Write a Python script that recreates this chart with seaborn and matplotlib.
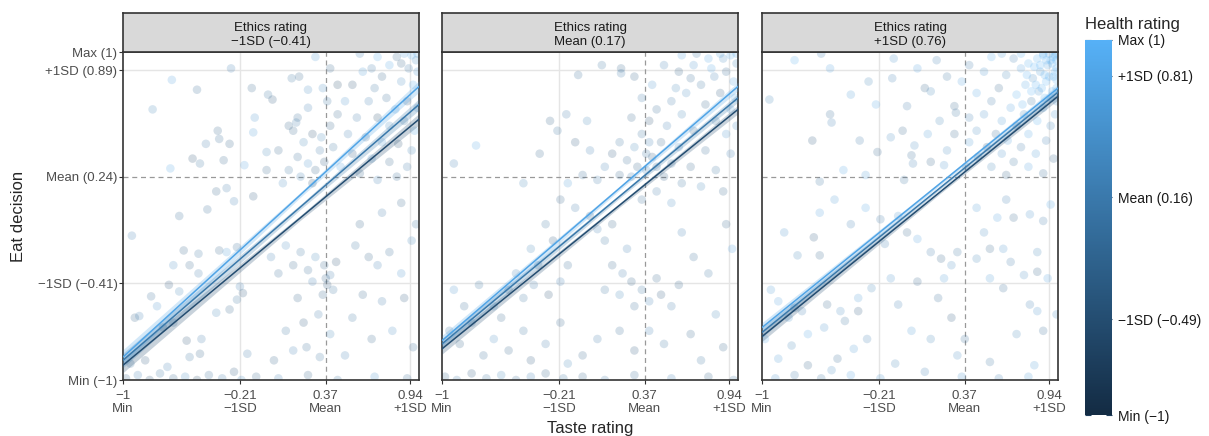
import numpy as np
import pandas as pd
import matplotlib
matplotlib.use("Agg")
import matplotlib.pyplot as plt
import seaborn as sns
from matplotlib.colors import LinearSegmentedColormap, Normalize
from matplotlib.cm import ScalarMappable

sns.set_theme(style="white")
plt.rcParams['font.family'] = ['Liberation Sans', 'DejaVu Sans']

# axis ticks / labels
taste_ticks = [-1, -0.21, 0.37, 0.94]
taste_labels = ['−1\nMin', '−0.21\n−1SD', '0.37\nMean', '0.94\n+1SD']
eat_ticks = [-1, -0.41, 0.24, 0.89, 1]
eat_labels = ['Min (−1)', '−1SD (−0.41)', 'Mean (0.24)', '+1SD (0.89)', 'Max (1)']
health_ticks = [-1, -0.49, 0.16, 0.81, 1]
health_labels = ['Min (−1)', '−1SD (−0.49)', 'Mean (0.16)', '+1SD (0.81)', 'Max (1)']
panel_titles = ['Ethics rating\n−1SD (−0.41)', 'Ethics rating\nMean (0.17)', 'Ethics rating\n+1SD (0.76)']

# fitted eat decision at taste = -1 and taste = 1, for health -1SD / mean / +1SD
line_health = [-0.49, 0.16, 0.81]
fit_left = [[-0.91, -0.88, -0.86], [-0.81, -0.78, -0.76], [-0.735, -0.71, -0.68]]
fit_right = [[0.59, 0.68, 0.79], [0.65, 0.72, 0.79], [0.73, 0.755, 0.78]]
# confidence half-width at taste = -1, 0.2, 1
ci_width = [[0.045, 0.015, 0.035], [0.032, 0.012, 0.026], [0.03, 0.01, 0.022]]

p1_points = [
    (0.95, 0.98, 0.9), (0.98, 0.95, 0.3), (0.90, 0.99, 0.7), (0.85, 0.97, -0.2), (0.99, 0.88, 0.5),
    (0.93, 0.90, 0.1), (0.80, 0.92, 0.8), (0.75, 0.85, -0.3), (0.88, 0.82, 0.4), (0.96, 0.80, 0.9),
    (0.70, 0.78, 0.0), (0.62, 0.88, 0.6), (0.55, 0.80, -0.5), (0.66, 0.70, 0.2), (0.78, 0.72, -0.1),
    (0.84, 0.65, 0.7), (0.92, 0.70, -0.4), (0.99, 0.66, 0.3), (0.50, 0.70, 0.5), (0.45, 0.62, -0.2),
    (0.58, 0.60, 0.1), (0.72, 0.60, -0.6), (0.80, 0.55, 0.4), (0.90, 0.58, 0.0), (0.97, 0.52, 0.8),
    (0.40, 0.55, -0.3), (0.52, 0.50, 0.2), (0.64, 0.48, -0.1), (0.75, 0.45, 0.6), (0.86, 0.44, -0.5),
    (0.95, 0.40, 0.3), (0.42, 0.42, 0.0), (0.55, 0.38, -0.4), (0.68, 0.35, 0.5), (0.80, 0.33, -0.2),
    (0.92, 0.30, 0.1), (0.47, 0.30, 0.7), (0.60, 0.26, -0.3), (0.72, 0.22, 0.2), (0.85, 0.24, -0.1),
    (0.35, 0.78, 0.4), (0.40, 0.90, -0.2), (0.30, 0.97, 0.6), (0.60, 0.99, 0.2), (0.72, 0.97, 0.9),
    (0.38, 0.70, 0.0), (0.45, 0.80, -0.6), (0.99, 0.99, 0.6), (0.88, 0.93, -0.3), (0.68, 0.90, 0.1),
    (0.15, 0.52, -0.2), (0.22, 0.45, 0.3), (0.28, 0.50, -0.5), (0.33, 0.40, 0.1), (0.18, 0.36, -0.1),
    (0.25, 0.32, 0.5), (0.30, 0.28, -0.3), (0.12, 0.28, 0.0), (0.36, 0.33, -0.4), (0.20, 0.24, 0.2),
    (0.05, 0.40, -0.2), (0.08, 0.20, 0.4), (0.28, 0.20, -0.6), (0.34, 0.48, 0.3), (0.18, 0.60, -0.1),
    (0.25, 0.66, 0.2),
    (-0.67, 0.83, 0.7), (-0.50, 0.77, -0.1), (-0.80, 0.65, 0.3), (-0.27, 0.90, 0.2), (-0.13, 0.78, -0.2),
    (-0.02, 0.74, 0.0), (0.01, 0.71, -0.4), (-0.11, 0.60, 0.5), (-0.12, 0.51, 0.6), (-0.36, 0.52, -0.2),
    (-0.35, 0.47, -0.1), (-0.28, 0.44, -0.3), (-0.44, 0.44, 0.1), (-0.53, 0.35, -0.5), (-0.48, 0.32, 0.0),
    (-0.32, 0.34, -0.2), (-0.18, 0.31, 0.7), (-0.68, 0.29, 0.8), (-0.37, 0.15, -0.3), (-0.30, 0.17, 0.1),
    (-0.12, 0.12, -0.4), (-0.25, 0.09, 0.2), (-0.43, 0.04, -0.1), (-0.03, 0.39, 0.3), (-0.03, 0.28, -0.2),
    (0.12, 0.55, -0.3), (0.17, 0.57, 0.1), (0.14, 0.84, 0.0), (0.19, 0.85, -0.2), (0.25, 0.77, 0.4),
    (-0.62, 0.00, -0.1), (-0.94, -0.12, 0.2), (-0.59, -0.21, -0.3), (-0.49, -0.23, 0.0), (-0.66, -0.30, 0.4),
    (-0.55, -0.30, -0.2), (-0.49, -0.35, 0.1), (-0.69, -0.42, -0.4), (-0.62, -0.46, 0.3), (-0.81, -0.49, -0.1),
    (-0.77, -0.55, 0.5), (-0.92, -0.62, -0.3), (-0.89, -0.61, 0.2), (-0.73, -0.68, -0.5), (-0.66, -0.65, 0.0),
    (-0.35, -0.21, -0.2), (-0.30, -0.22, 0.6), (-0.23, -0.19, -0.1), (-0.21, -0.43, 0.2), (-0.19, -0.47, -0.4),
    (-0.23, -0.51, 0.0), (-0.28, -0.57, -0.2), (-0.37, -0.59, 0.3), (-0.48, -0.84, -0.3), (-0.47, -0.75, 0.1),
    (-0.57, -0.76, -0.5), (-0.55, -0.86, 0.0),
    (-0.98, -0.99, -0.3), (-0.90, -0.97, 0.2), (-0.82, -1.00, -0.5), (-0.75, -0.96, 0.0), (-0.66, -0.99, -0.2),
    (-0.58, -0.98, 0.4), (-0.50, -1.00, -0.6), (-0.42, -0.97, -0.1), (-0.33, -0.99, 0.1), (-0.25, -0.95, -0.4),
    (-0.20, -1.00, 0.3), (-0.10, -0.98, -0.2), (0.05, -0.99, 0.2), (0.25, -0.97, -0.3), (0.45, -1.00, 0.0),
    (0.70, -0.98, 0.5), (0.92, -0.99, -0.1), (-0.95, -0.90, 0.0), (-0.85, -0.88, -0.4), (-0.70, -0.92, 0.2),
    (0.36, -0.30, -0.2), (0.40, -0.36, 0.1), (0.38, -0.42, -0.4), (0.42, -0.45, 0.0), (0.35, -0.48, -0.3),
    (0.30, -0.25, 0.3), (0.25, -0.33, -0.1), (0.28, -0.40, 0.2), (0.44, -0.28, -0.5), (0.20, -0.22, 0.0),
    (0.15, -0.30, -0.2), (0.10, -0.18, 0.4), (0.05, -0.35, -0.1), (0.00, -0.25, 0.2), (0.18, -0.50, -0.3),
    (0.32, -0.60, 0.1), (0.22, -0.65, -0.4), (0.10, -0.70, 0.0), (0.40, -0.72, 0.3), (0.37, -0.38, -0.3),
    (0.57, -0.18, 0.0), (0.66, -0.25, -0.3), (0.72, -0.30, 0.2), (0.80, -0.22, -0.1), (0.88, -0.35, 0.5),
    (0.62, -0.48, -0.2), (0.75, -0.52, 0.1), (0.90, -0.50, -0.4), (0.95, -0.15, 0.3), (0.55, -0.62, 0.0),
    (0.68, -0.75, -0.2), (0.82, -0.70, 0.4), (0.96, -0.80, -0.1), (0.50, -0.85, 0.2), (0.60, -0.05, -0.3),
    (0.75, 0.02, 0.1), (0.88, 0.08, -0.2), (0.98, -0.05, 0.0), (-0.16, -0.84, 0.1), (0.02, -0.88, -0.3),
    (0.15, -0.82, 0.2), (0.24, -0.80, -0.1), (0.33, -0.86, 0.0),
]

p2_points = [
    (0.95, 0.98, 0.9), (0.88, 0.99, 0.6), (0.99, 0.93, 0.3), (0.80, 0.96, 0.8), (0.92, 0.88, -0.1),
    (0.70, 0.92, 0.5), (0.84, 0.85, 0.2), (0.97, 0.82, 0.7), (0.60, 0.88, -0.3), (0.75, 0.80, 0.0),
    (0.65, 0.75, 0.4), (0.88, 0.75, -0.4), (0.55, 0.70, 0.1), (0.78, 0.68, -0.2), (0.95, 0.65, 0.6),
    (0.45, 0.65, -0.1), (0.62, 0.62, 0.3), (0.85, 0.58, 0.0), (0.40, 0.58, -0.5), (0.52, 0.55, 0.2),
    (0.70, 0.52, -0.3), (0.92, 0.50, 0.5), (0.35, 0.50, 0.0), (0.48, 0.45, -0.2), (0.60, 0.42, 0.4),
    (0.78, 0.40, -0.1), (0.95, 0.38, 0.2), (0.30, 0.42, 0.3), (0.42, 0.36, -0.4), (0.55, 0.32, 0.1),
    (0.68, 0.30, -0.2), (0.85, 0.28, 0.0), (0.25, 0.34, -0.1), (0.38, 0.28, 0.2), (0.50, 0.24, -0.3),
    (0.62, 0.20, 0.0), (0.75, 0.18, 0.3), (0.90, 0.15, -0.2), (0.45, 0.15, 0.1), (0.35, 0.10, -0.1),
    (0.55, 0.08, 0.4), (0.20, 0.45, 0.0), (0.28, 0.60, -0.2), (0.35, 0.72, 0.1), (0.42, 0.80, 0.5),
    (0.50, 0.92, 0.2), (0.30, 0.85, -0.3), (0.62, 0.98, 0.7), (0.72, 0.99, 0.0), (0.15, 0.38, -0.4),
    (0.10, 0.30, 0.2), (0.20, 0.25, -0.2), (0.05, 0.22, 0.1), (0.98, 0.72, 0.9), (0.99, 0.55, 0.4),
    (0.82, 0.90, 0.8), (0.90, 0.96, 0.4), (0.99, 0.99, 0.7), (0.68, 0.84, -0.1), (0.58, 0.78, 0.3),
    (0.32, 0.30, -0.3), (0.40, 0.45, 0.2), (0.28, 0.24, 0.1), (0.45, 0.30, -0.1), (0.38, 0.38, 0.0),
    (-0.77, 0.43, 0.8), (-0.92, 0.32, 0.2), (-0.27, 0.58, -0.3), (-0.22, 0.52, 0.0), (-0.34, 0.38, -0.2),
    (-0.16, 0.62, 0.1), (-0.08, 0.86, -0.1), (-0.02, 0.58, 0.3), (0.08, 0.92, 0.0), (0.21, 0.90, -0.2),
    (0.21, 0.87, 0.1), (-0.10, 0.45, -0.4), (0.00, 0.40, 0.2), (-0.05, 0.25, -0.1), (-0.15, 0.20, 0.6),
    (-0.45, 0.20, 0.3),
    (-0.20, 0.10, -0.2), (-0.10, 0.05, 0.1), (0.00, 0.00, -0.3), (0.05, -0.08, 0.2), (-0.30, -0.05, 0.0),
    (-0.25, -0.15, -0.4), (-0.40, -0.20, 0.3), (-0.35, -0.30, -0.1), (-0.50, -0.35, 0.2), (-0.55, -0.45, -0.3),
    (-0.45, -0.50, 0.0), (-0.65, -0.55, 0.5), (-0.60, -0.62, -0.2), (-0.38, -0.42, 0.1), (-0.28, -0.48, -0.5),
    (-0.20, -0.40, 0.2), (-0.15, -0.30, -0.1), (0.10, -0.15, 0.0), (0.15, -0.05, -0.3), (0.25, -0.20, 0.2),
    (0.15, -0.30, -0.2), (0.22, -0.35, 0.1), (0.28, -0.40, -0.3), (0.35, -0.45, 0.0), (0.40, -0.52, 0.2),
    (0.48, -0.48, -0.4), (0.55, -0.55, 0.1), (0.30, -0.55, -0.1), (0.20, -0.48, 0.3), (0.45, -0.38, -0.2),
    (0.10, -0.45, 0.0), (0.60, -0.42, -0.3), (0.62, -0.10, 0.2), (0.70, -0.25, -0.1), (0.80, -0.35, 0.0),
    (0.96, -0.20, 0.7), (0.92, -0.05, -0.2), (0.85, -0.60, 0.3), (0.68, -0.72, -0.2), (0.50, -0.78, 0.0),
    (0.30, -0.82, -0.4), (0.40, -0.70, 0.2), (0.20, -0.70, -0.1), (0.05, -0.75, 0.1), (-0.05, -0.85, -0.2),
    (0.75, -0.88, 0.0), (0.90, -0.80, -0.3),
    (-0.95, -0.70, 0.0), (-0.88, -0.78, -0.3), (-0.80, -0.65, 0.2), (-0.72, -0.85, -0.1), (-0.65, -0.75, 0.4),
    (-0.55, -0.82, -0.2), (-0.45, -0.70, 0.0), (-0.40, -0.88, -0.4), (-0.30, -0.78, 0.1), (-0.20, -0.65, -0.2),
    (-0.15, -0.90, 0.3), (-0.85, -0.55, -0.1), (-0.92, -0.45, 0.5), (-0.75, -0.42, 0.0),
    (-0.98, -0.98, -0.2), (-0.90, -1.00, 0.1), (-0.80, -0.96, -0.4), (-0.70, -0.99, 0.0), (-0.60, -0.97, 0.3),
    (-0.50, -1.00, -0.1), (-0.40, -0.98, 0.2), (-0.30, -0.96, -0.3), (-0.18, -0.99, 0.0), (-0.05, -0.98, -0.2),
    (0.10, -1.00, 0.1), (0.30, -0.97, -0.1), (0.55, -0.99, 0.2), (0.80, -0.98, -0.3), (0.97, -1.00, 0.0),
]

p3_points = [
    (0.98, 0.98, 0.9), (0.95, 0.95, 1.0), (0.90, 0.99, 0.8), (0.99, 0.90, 0.95), (0.93, 0.92, 0.7),
    (0.86, 0.96, 0.9), (0.97, 0.85, 0.85), (0.88, 0.88, 0.6), (0.80, 0.93, 0.9), (0.92, 0.82, 1.0),
    (0.83, 0.84, 0.4), (0.75, 0.90, 0.7), (0.99, 0.78, 0.9), (0.70, 0.96, 0.2), (0.78, 0.80, 0.8),
    (0.87, 0.76, 0.5), (0.95, 0.72, 0.9), (0.65, 0.86, 0.3), (0.72, 0.74, 0.9), (0.82, 0.70, 0.0),
    (0.90, 0.66, 0.8), (0.98, 0.62, 0.6), (0.60, 0.78, -0.2), (0.68, 0.66, 0.7), (0.77, 0.62, 0.3),
    (0.86, 0.58, 0.9), (0.95, 0.55, 0.4), (0.55, 0.70, 0.1), (0.62, 0.58, 0.6), (0.72, 0.55, -0.3),
    (0.80, 0.50, 0.8), (0.92, 0.46, 0.2), (0.50, 0.62, 0.5), (0.58, 0.50, -0.1), (0.66, 0.46, 0.7),
    (0.75, 0.42, 0.1), (0.85, 0.38, 0.6), (0.97, 0.35, -0.2), (0.45, 0.52, 0.4), (0.52, 0.42, -0.4),
    (0.62, 0.38, 0.5), (0.70, 0.33, 0.0), (0.80, 0.30, 0.7), (0.90, 0.26, -0.1), (0.40, 0.45, 0.6),
    (0.46, 0.36, 0.0), (0.55, 0.30, 0.3), (0.65, 0.25, -0.3), (0.40, 0.60, 0.2), (0.45, 0.75, 0.8),
    (0.50, 0.88, 0.5), (0.55, 0.97, 0.9), (0.40, 0.92, 0.1), (0.35, 0.82, 0.7), (0.62, 0.99, 0.6),
    (0.75, 0.99, 0.9), (0.99, 0.99, 0.8), (0.94, 0.99, 0.7), (0.99, 0.70, 0.5), (0.38, 0.30, 0.0),
    (0.30, 0.50, -0.2), (0.25, 0.40, 0.4), (0.96, 0.93, 1.0), (0.91, 0.86, 0.9), (0.84, 0.91, 1.0),
    (0.99, 0.83, 1.0), (0.89, 0.78, 0.9), (0.76, 0.68, 0.9), (0.97, 0.97, 1.0), (0.92, 0.95, 0.95),
    (0.98, 0.88, 1.0), (0.94, 0.85, 0.9), (0.88, 0.92, 1.0), (0.85, 0.80, 0.95), (0.96, 0.76, 1.0),
    (0.91, 0.72, 0.9), (0.82, 0.76, 1.0), (0.79, 0.86, 0.95), (0.99, 0.95, 1.0), (0.90, 0.98, 1.0),
    (-0.02, 0.67, 0.1), (0.10, 0.78, -0.3), (0.14, 0.76, 0.3), (0.30, 0.67, -0.2), (0.31, 0.63, 0.0),
    (0.03, 0.43, 0.4), (0.01, 0.37, -0.1), (0.02, 0.32, 0.2), (0.14, 0.33, -0.3), (0.23, 0.31, 0.5),
    (-0.04, 0.22, 0.0), (0.20, 0.58, 0.3), (0.25, 0.85, 0.0), (0.05, 0.90, 0.7), (0.18, 0.95, 0.2),
    (-0.05, 0.52, -0.2), (0.12, 0.50, 0.6),
    (-0.95, 0.71, 0.3), (-0.66, 0.46, -0.4), (-0.54, 0.62, -0.1), (-0.53, 0.57, 0.2), (-0.34, 0.46, 0.1),
    (-0.40, 0.74, 0.6), (-0.23, 0.68, 0.8), (-0.28, 0.82, 0.3), (-0.11, 0.96, 0.5), (-0.54, 0.90, 0.7),
    (-0.12, 0.84, 0.2), (-0.13, 0.48, 0.4), (-0.22, 0.39, -0.2), (-0.30, 0.25, 0.6), (-0.45, 0.28, 0.8),
    (-0.78, 0.95, 0.9), (-0.60, 0.99, 0.2),
    (-0.61, 0.21, 0.0), (-0.51, 0.10, 0.6), (-0.61, 0.02, 0.7), (-0.65, -0.13, -0.4), (-0.61, -0.24, -0.2),
    (-0.76, -0.24, 0.3), (-0.85, -0.10, 0.5), (-0.40, -0.05, 0.2), (-0.30, 0.05, 0.8), (-0.20, -0.02, 0.1),
    (-0.94, -0.45, 0.6), (-0.89, -0.52, 0.7), (-0.78, -0.56, -0.3), (-0.82, -0.62, 0.5), (-0.73, -0.58, 0.2),
    (-0.56, -0.54, -0.2), (-0.47, -0.58, 0.4), (-0.35, -0.50, 0.6), (-0.26, -0.44, 0.3), (-0.35, -0.58, -0.4),
    (-0.44, -0.64, 0.0), (-0.58, -0.68, 0.5), (-0.69, -0.72, 0.8), (-0.80, -0.79, 0.3), (-0.89, -0.87, 0.6),
    (-0.69, -0.91, -0.3), (-0.53, -0.94, 0.4), (-0.40, -0.97, 0.7), (-0.78, -0.97, 0.1), (-0.91, -0.99, 0.5),
    (-0.49, -0.87, -0.1), (-0.29, -0.75, 0.2), (-0.38, -0.81, 0.6), (-0.98, -0.75, 0.8), (-0.60, -0.99, 0.0),
    (-0.20, -0.99, 0.5), (-0.10, -0.90, 0.3),
    (-0.17, -0.17, 0.2), (-0.08, 0.00, 0.5), (-0.02, -0.10, -0.2), (0.05, -0.14, 0.7), (0.14, -0.22, 0.1),
    (0.21, -0.26, -0.3), (0.28, -0.30, 0.4), (0.32, -0.22, 0.0), (0.23, -0.38, 0.6), (0.19, -0.50, -0.1),
    (0.28, -0.62, -0.4), (0.14, -0.75, 0.3), (0.01, -0.70, 0.6), (-0.08, -0.54, 0.2), (-0.13, -0.38, 0.5),
    (0.05, -0.40, -0.2), (0.32, -0.85, 0.4), (0.37, -0.75, -0.1), (0.10, -0.95, 0.2), (0.35, -0.98, 0.5),
    (0.45, -0.26, 0.3), (0.54, -0.20, -0.2), (0.63, -0.20, 0.5), (0.68, -0.28, 0.1), (0.54, -0.38, 0.6),
    (0.63, -0.44, -0.1), (0.77, -0.36, 0.4), (0.86, -0.34, -0.3), (0.93, -0.38, 0.7), (0.81, -0.54, 0.2),
    (0.86, -0.58, 0.5), (0.90, -0.70, -0.1), (0.72, -0.72, 0.3), (0.84, -0.91, 0.6), (0.54, -0.89, 0.0),
    (0.50, -0.10, 0.4), (0.59, -0.01, 0.7), (0.70, -0.01, -0.2), (0.81, 0.01, 0.5), (0.90, -0.03, 0.1),
    (0.86, -0.22, 0.3), (0.95, 0.07, 0.8), (0.65, 0.10, 0.2), (0.45, 0.05, 0.6), (0.99, -0.60, 0.4),
    (0.60, -0.99, 0.2), (0.80, -0.98, 0.6),
]

panels = [p1_points, p2_points, p3_points]

# ggplot-like default gradient for health
health_cmap = LinearSegmentedColormap.from_list('health', ['#132B43', '#56B1F7'])
norm = Normalize(-1, 1)

fig = plt.figure(figsize=(12.09, 4.36), dpi=100)
W, H = 1209, 436
panel_left = [123, 442, 762]
panel_w = 296
plot_top, plot_bot = 52, 380
strip_top = 13

tick_col = '#4D4D4D'
for i, pts in enumerate(panels):
    left = panel_left[i] / W
    ax = fig.add_axes([left, 1 - plot_bot / H, panel_w / W, (plot_bot - plot_top) / H])
    df = pd.DataFrame(pts, columns=['taste', 'eat', 'health'])

    # reference grid + mean lines
    for v in [-0.21, 0.94]:
        ax.axvline(v, color='#E5E5E5', lw=1.0, zorder=0)
    for v in [-0.41, 0.89]:
        ax.axhline(v, color='#E5E5E5', lw=1.0, zorder=0)
    ax.axvline(0.37, color='#999999', lw=0.9, ls=(0, (4, 3)), zorder=1)
    ax.axhline(0.24, color='#999999', lw=0.9, ls=(0, (4, 3)), zorder=1)

    sns.scatterplot(data=df, x='taste', y='eat', hue='health', palette=health_cmap,
                    hue_norm=(-1, 1), alpha=0.2, s=38, edgecolor='none',
                    legend=False, ax=ax, zorder=2)

    # fitted lines with confidence bands
    fits = pd.DataFrame({
        'taste': [-1, 1] * 3,
        'eat': [v for k in range(3) for v in (fit_left[i][k], fit_right[i][k])],
        'health': [h for h in line_health for _ in range(2)],
    })
    bx = np.array([-1, 0.2, 1])
    for k, h in enumerate(line_health):
        col = health_cmap(norm(h))
        by = fit_left[i][k] + (fit_right[i][k] - fit_left[i][k]) * (bx + 1) / 2
        hw = np.array(ci_width[i])
        ax.fill_between(bx, by - hw, by + hw, color=col, alpha=0.25, lw=0, zorder=3)
    sns.lineplot(data=fits, x='taste', y='eat', hue='health', palette=health_cmap,
                 hue_norm=(-1, 1), lw=1.1, legend=False, ax=ax, zorder=4)

    ax.set_xlim(-1, 1)
    ax.set_ylim(-1, 1)
    ax.set_xlabel('')
    ax.set_ylabel('')
    ax.set_xticks(taste_ticks)
    ax.set_xticklabels(taste_labels, fontsize=9.5, color=tick_col, linespacing=1.1)
    ax.tick_params(axis='x', length=3, width=0.8, color='#333333', pad=4, bottom=True)
    if i == 0:
        ax.set_yticks(eat_ticks)
        ax.set_yticklabels(eat_labels, fontsize=9.5, color=tick_col)
        ax.tick_params(axis='y', length=3, width=0.8, color='#333333', pad=1, left=True)
    else:
        ax.set_yticks([])
    for s in ax.spines.values():
        s.set_color('#333333')
        s.set_linewidth(1.2)

    # facet strip
    sax = fig.add_axes([left, 1 - plot_top / H, panel_w / W, (plot_top - strip_top) / H])
    sax.set_facecolor('#D9D9D9')
    sax.set_xticks([])
    sax.set_yticks([])
    for s in sax.spines.values():
        s.set_color('#333333')
        s.set_linewidth(1.2)
    sax.text(0.5, 0.44, panel_titles[i], ha='center', va='center', fontsize=9.5,
             color='#1A1A1A', linespacing=1.2, transform=sax.transAxes)

fig.text(590 / W, 1 - 428 / H, 'Taste rating', ha='center', va='center', fontsize=12)
fig.text(19 / W, 1 - 216 / H, 'Eat decision', ha='center', va='center', fontsize=12,
         rotation=90)

# colour bar for health
cax = fig.add_axes([1085 / W, 1 - 415 / H, 27 / W, 375 / H])
cb = fig.colorbar(ScalarMappable(norm=norm, cmap=health_cmap), cax=cax)
cb.outline.set_visible(False)
cb.set_ticks(health_ticks)
cb.set_ticklabels(health_labels)
cax.tick_params(axis='y', direction='in', length=4, width=0.8, color='#1E3E5C',
                labelsize=10, labelcolor='#1A1A1A', left=True, right=True, pad=4)
fig.text(1085 / W, 1 - 25 / H, 'Health rating', ha='left', va='center', fontsize=12)

fig.savefig('out.png', dpi=100)
